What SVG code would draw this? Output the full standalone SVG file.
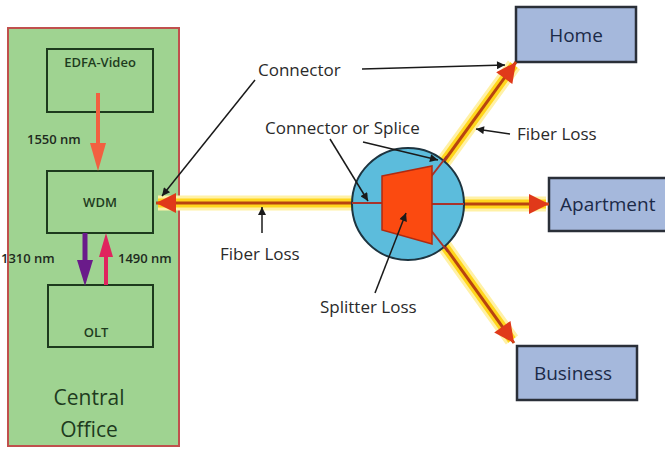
<svg xmlns="http://www.w3.org/2000/svg" width="665" height="449" viewBox="0 0 665 449">
<style>
text{font-family:"Open Sans","Liberation Sans",sans-serif}
.lbl{font-size:17px;fill:#2a2a2a}
.co{fill:#1e3b1e;font-size:13px;font-weight:600}
.nm{fill:#1e2a1e;font-size:13px;font-weight:600}
.dest{fill:#1b2a48;font-size:19px}
.dbox{fill:#a5b8dc;stroke:#2a2f38;stroke-width:2.5}
.gbox{fill:none;stroke:#1d3a1d;stroke-width:2}
.glow{fill:none;stroke:#fff1a6;stroke-width:15}
.yel{fill:none;stroke:#ffd61c;stroke-width:9}
.core{fill:none;stroke:#b8440f;stroke-width:3}
.thin{fill:none;stroke:#1a1a1a;stroke-width:1.5}
.red{fill:none;stroke:#a8332b;stroke-width:2}
</style>
<defs>
<marker id="fa" viewBox="0 0 10 10" refX="10" refY="5" markerUnits="userSpaceOnUse" markerWidth="26" markerHeight="20" orient="auto">
<path d="M0,0 L10,5 L0,10 Z" fill="#e0391a"/>
</marker>
<marker id="ta" viewBox="0 0 10 10" refX="10" refY="5" markerUnits="userSpaceOnUse" markerWidth="10" markerHeight="8" orient="auto">
<path d="M0,0 L10,5 L0,10 Z" fill="#1a1a1a"/>
</marker>
</defs>
<rect width="665" height="449" fill="#fff"/>

<g id="central-office">
<rect x="8" y="28" width="171" height="418" fill="#9fd391" stroke="#c0504d" stroke-width="2"/>
<text x="89" y="405" text-anchor="middle" style="font-size:21px;fill:#1e3b1e">Central</text>
<text x="89" y="437" text-anchor="middle" style="font-size:21px;fill:#1e3b1e">Office</text>
</g>
<g id="edfa">
<rect class="gbox" x="47" y="49" width="106" height="63"/>
<text class="co" x="100" y="67" text-anchor="middle">EDFA-Video</text>
</g>
<g id="wdm">
<rect class="gbox" x="47" y="171" width="106" height="62"/>
<text class="co" x="100" y="207" text-anchor="middle">WDM</text>
</g>
<g id="olt">
<rect class="gbox" x="48" y="285" width="105" height="62"/>
<text class="co" x="96" y="337" text-anchor="middle">OLT</text>
</g>

<g id="home"><rect class="dbox" x="516" y="7" width="120" height="55"/><text class="dest" x="576" y="42" text-anchor="middle">Home</text></g>
<g id="apartment"><rect class="dbox" x="549" y="178" width="120" height="53"/><text class="dest" x="560" y="211">Apartment</text></g>
<g id="business"><rect class="dbox" x="517" y="346" width="120" height="54"/><text class="dest" x="573" y="380" text-anchor="middle">Business</text></g>

<g id="connectors">
<line x1="98" y1="93" x2="98" y2="145" stroke="#f26040" stroke-width="4"/>
<polygon points="90,143 106,143 98,171" fill="#f26040"/>
<line x1="85" y1="233" x2="85" y2="262" stroke="#6a1b8a" stroke-width="5"/>
<polygon points="77,260 93,260 85,286" fill="#6a1b8a"/>
<line x1="106" y1="285" x2="106" y2="255" stroke="#e0245e" stroke-width="4"/>
<polygon points="99,257 113,257 106,233" fill="#e0245e"/>

<g id="fiber-main">
<path class="glow" d="M354,203 L158,203"/>
<path class="yel" d="M354,203 L158,203"/>
<path class="core" d="M354,203 L156,203" marker-end="url(#fa)"/>
</g>
<g id="fiber-home">
<path class="glow" d="M442,164 L514,65"/>
<path class="yel" d="M442,164 L514,65"/>
<path class="core" d="M442,164 L516,62" marker-end="url(#fa)"/>
</g>
<g id="fiber-apt">
<path class="glow" d="M462,204 L546,204"/>
<path class="yel" d="M462,204 L546,204"/>
<path class="core" d="M462,204 L549,204" marker-end="url(#fa)"/>
</g>
<g id="fiber-bus">
<path class="glow" d="M443,244 L512,340"/>
<path class="yel" d="M443,244 L512,340"/>
<path class="core" d="M443,244 L514,343" marker-end="url(#fa)"/>
</g>
</g>

<g id="splitter">
<circle cx="408" cy="204" r="56" fill="#5cbcdc" stroke="#1d3440" stroke-width="2"/>
<path class="red" d="M352,203 H384 M430,204 H464 M430,178 L447,156 M430,229 L448,252"/>
<polygon points="382,176 432,166 432,244 382,230" fill="#fb4a10" stroke="#b02a10" stroke-width="1.5"/>
</g>

<g id="labels">
<text class="lbl" x="258" y="76">Connector</text>
<path class="thin" d="M362,69 L505,65" marker-end="url(#ta)"/>
<path class="thin" d="M255,80 L162,196" marker-end="url(#ta)"/>
<text class="lbl" x="265" y="134">Connector or Splice</text>
<path class="thin" d="M330,139 L368,201" marker-end="url(#ta)"/>
<path class="thin" d="M363,142 L438,160" marker-end="url(#ta)"/>
<text class="lbl" x="220" y="260">Fiber Loss</text>
<path class="thin" d="M262,233 L262,207" marker-end="url(#ta)"/>
<text class="lbl" x="320" y="313">Splitter Loss</text>
<path class="thin" d="M375,293 L406,213" marker-end="url(#ta)"/>
<text class="lbl" x="517" y="140">Fiber Loss</text>
<path class="thin" d="M510,134 L476,129" marker-end="url(#ta)"/>
<text class="nm" x="27" y="144">1550 nm</text>
<text class="nm" x="1" y="263">1310 nm</text>
<text class="nm" x="118" y="263">1490 nm</text>
</g>
</svg>
